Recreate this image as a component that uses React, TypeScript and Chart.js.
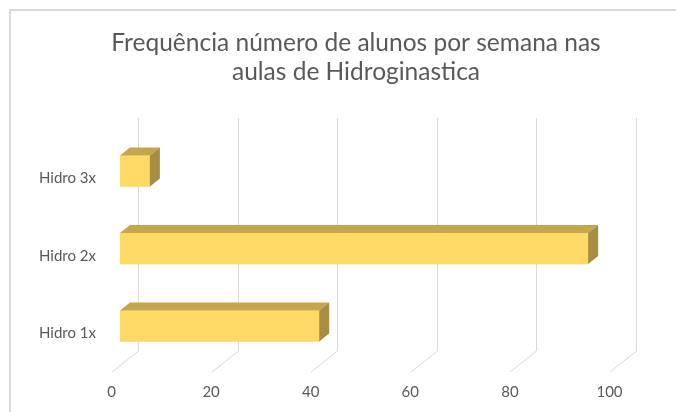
import React, { useEffect, useRef } from "react";
import { Chart, registerables } from "chart.js";

Chart.register(...registerables);

const categories = ["Hidro 1x", "Hidro 2x", "Hidro 3x"];
const values = [40, 94, 6];
const xTicks = [0, 20, 40, 60, 80, 100];
const titleLines = ["Frequência número de alunos por semana nas", "aulas de Hidroginastica"];

const FONT = "Lato, 'Open Sans', sans-serif";
const TEXT = "#595959";
const GRID = "#D9D9D9";

const decorPlugin = {
  id: "decor",
  beforeDraw(chart: any) {
    const ctx = chart.ctx as CanvasRenderingContext2D;
    const xs = chart.scales.x;
    const ys = chart.scales.y;
    ctx.save();
    ctx.fillStyle = "#ffffff";
    ctx.fillRect(0, 0, chart.width, chart.height);
    // frame
    ctx.strokeStyle = GRID;
    ctx.lineWidth = 2;
    ctx.beginPath();
    ctx.moveTo(10, chart.height);
    ctx.lineTo(10, 10);
    ctx.lineTo(chart.width, 10);
    ctx.stroke();
    // title
    ctx.fillStyle = TEXT;
    ctx.font = `24.5px ${FONT}`;
    ctx.textAlign = "center";
    ctx.textBaseline = "alphabetic";
    ctx.fillText(titleLines[0], 356, 51);
    ctx.fillText(titleLines[1], 356, 80);
    // back gridlines and floor diagonals
    ctx.lineWidth = 1;
    ctx.strokeStyle = GRID;
    xTicks.forEach((t) => {
      const px = Math.round(xs.getPixelForValue(t));
      ctx.beginPath();
      ctx.moveTo(px + 18.5, 118);
      ctx.lineTo(px + 18.5, 351);
      ctx.lineTo(px - 8, 372);
      ctx.stroke();
    });
    // x tick labels
    ctx.font = `15px ${FONT}`;
    ctx.textAlign = "center";
    ctx.textBaseline = "middle";
    xTicks.forEach((t) => {
      const px = xs.getPixelForValue(t);
      ctx.fillText(String(t), px - 8.5, 392);
    });
    // y labels
    ctx.textAlign = "right";
    categories.forEach((c, i) => {
      const py = ys.getPixelForValue(i);
      ctx.fillText(c, 96, py + 7.5);
    });
    ctx.restore();
  },
  afterDatasetsDraw(chart: any) {
    const ctx = chart.ctx as CanvasRenderingContext2D;
    const meta = chart.getDatasetMeta(0);
    const dx = 10;
    const dy = 8;
    ctx.save();
    meta.data.forEach((el: any) => {
      const top = el.y - el.height / 2;
      const bot = el.y + el.height / 2;
      const x0 = el.base;
      const x1 = el.x;
      // top face
      ctx.fillStyle = "#C4A64F";
      ctx.beginPath();
      ctx.moveTo(x0, top);
      ctx.lineTo(x0 + dx, top - dy);
      ctx.lineTo(x1 + dx, top - dy);
      ctx.lineTo(x1, top);
      ctx.closePath();
      ctx.fill();
      // side face
      ctx.fillStyle = "#A68D3F";
      ctx.beginPath();
      ctx.moveTo(x1, top);
      ctx.lineTo(x1 + dx, top - dy);
      ctx.lineTo(x1 + dx, bot - dy);
      ctx.lineTo(x1, bot);
      ctx.closePath();
      ctx.fill();
    });
    ctx.restore();
  },
};

export default function App() {
  const ref = useRef<HTMLCanvasElement | null>(null);
  useEffect(() => {
    if (!ref.current) return;
    const chart = new Chart(ref.current, {
      type: "bar",
      data: {
        labels: categories,
        datasets: [
          {
            data: values,
            backgroundColor: "#FFD966",
            borderWidth: 0,
            barThickness: 31,
          },
        ],
      },
      options: {
        indexAxis: "y",
        animation: false,
        responsive: false,
        devicePixelRatio: 1,
        layout: { padding: { left: 120, right: 58, top: 132.25, bottom: 47.25 } },
        plugins: { legend: { display: false }, title: { display: false }, tooltip: { enabled: false } },
        scales: {
          x: { display: false, min: 0, max: 100, ticks: { stepSize: 20 } },
          y: { display: false, reverse: true },
        },
      },
      plugins: [decorPlugin],
    });
    return () => chart.destroy();
  }, []);
  return (
    <div style={{ position: "fixed", left: 0, top: 0, width: 676, height: 412, background: "#fff" }}>
      <canvas ref={ref} width={676} height={412} style={{ display: "block", width: 676, height: 412 }} />
    </div>
  );
}
